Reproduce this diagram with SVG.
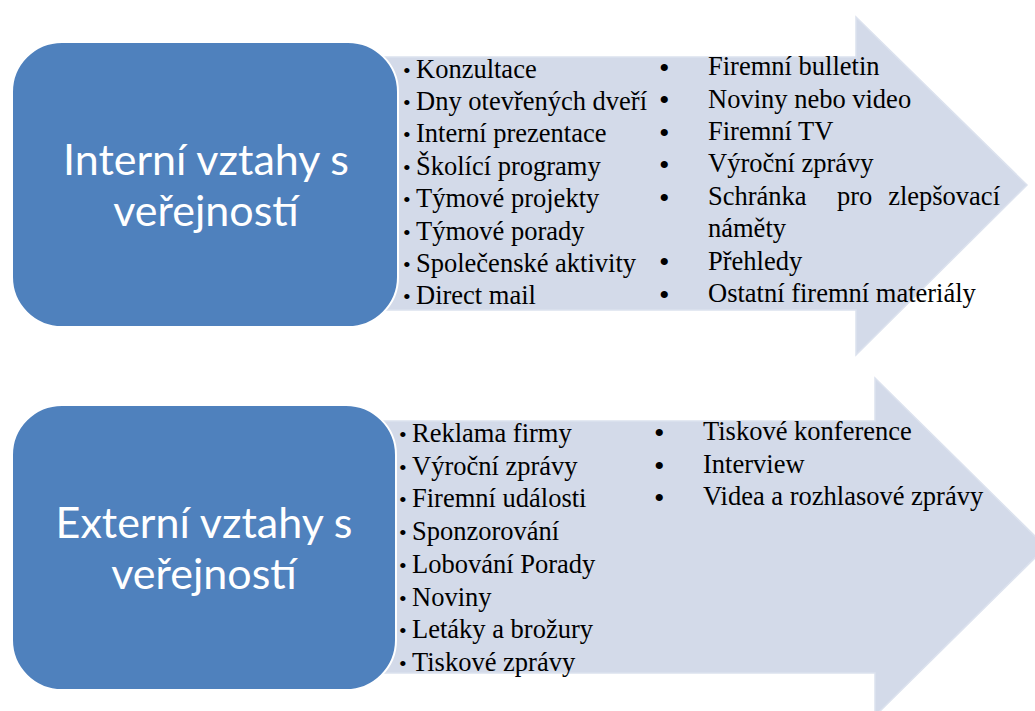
<svg xmlns="http://www.w3.org/2000/svg" width="1035" height="711" viewBox="0 0 1035 711">
<style>
.arrow{fill:#D3DAE9;stroke:#DCE2EE;stroke-width:1.5}
.box{fill:#4F81BD;stroke:#FFFFFF;stroke-width:2}
.title{font-family:Lato,"Noto Sans",sans-serif;font-size:43px;fill:#FFFFFF;text-anchor:middle}
.item{font-family:"Liberation Serif","Times New Roman",serif;font-size:26.5px;fill:#000000}
.sb{font-family:"Liberation Serif","Times New Roman",serif;font-size:22px;fill:#000000}
.bb{font-family:"Liberation Serif","Times New Roman",serif;font-size:30px;fill:#000000}
</style>
<rect width="1035" height="711" fill="#FFFFFF"/>
<g id="connectors"></g>
<g id="internal-list">
<path class="arrow" d="M380,57 H856 V17 L1027,185 L856,355 V310 H380 Z"/>
<text class="sb" x="403" y="77.5">•</text><text class="item" x="416" y="77.5">Konzultace</text>
<text class="sb" x="403" y="110">•</text><text class="item" x="416" y="110">Dny otevřených dveří</text>
<text class="sb" x="403" y="142">•</text><text class="item" x="416" y="142">Interní prezentace</text>
<text class="sb" x="403" y="175">•</text><text class="item" x="416" y="175">Školící programy</text>
<text class="sb" x="403" y="207">•</text><text class="item" x="416" y="207">Týmové projekty</text>
<text class="sb" x="403" y="239.5">•</text><text class="item" x="416" y="239.5">Týmové porady</text>
<text class="sb" x="403" y="272">•</text><text class="item" x="416" y="272">Společenské aktivity</text>
<text class="sb" x="403" y="304">•</text><text class="item" x="416" y="304">Direct mail</text>
<text class="bb" x="659" y="78">•</text><text class="item" x="708" y="75">Firemní bulletin</text>
<text class="bb" x="659" y="110">•</text><text class="item" x="708" y="107.5">Noviny nebo video</text>
<text class="bb" x="659" y="142.5">•</text><text class="item" x="708" y="140">Firemní TV</text>
<text class="bb" x="659" y="175">•</text><text class="item" x="708" y="172">Výroční zprávy</text>
<text class="bb" x="659" y="207.5">•</text><text class="item" x="708" y="204.5">Schránka</text><text class="item" x="837" y="204.5">pro</text><text class="item" x="1000" y="204.5" text-anchor="end">zlepšovací</text>
<text class="item" x="708" y="237">náměty</text>
<text class="bb" x="659" y="272">•</text><text class="item" x="708" y="269.5">Přehledy</text>
<text class="bb" x="659" y="304.5">•</text><text class="item" x="708" y="302">Ostatní firemní materiály</text>
</g>
<g id="internal-title">
<rect class="box" x="12" y="42" width="386" height="285" rx="50" ry="50"/>
<text class="title" x="206" y="175">Interní vztahy s</text>
<text class="title" x="206" y="226">veřejností</text>
</g>
<g id="external-list">
<path class="arrow" d="M380,421 H875 V378 L1046,547 L875,716 V673 H380 Z"/>
<text class="sb" x="399" y="442">•</text><text class="item" x="412" y="442">Reklama firmy</text>
<text class="sb" x="399" y="474.7">•</text><text class="item" x="412" y="474.7">Výroční zprávy</text>
<text class="sb" x="399" y="507.4">•</text><text class="item" x="412" y="507.4">Firemní události</text>
<text class="sb" x="399" y="540">•</text><text class="item" x="412" y="540">Sponzorování</text>
<text class="sb" x="399" y="572.8">•</text><text class="item" x="412" y="572.8">Lobování Porady</text>
<text class="sb" x="399" y="605.5">•</text><text class="item" x="412" y="605.5">Noviny</text>
<text class="sb" x="399" y="638">•</text><text class="item" x="412" y="638">Letáky a brožury</text>
<text class="sb" x="399" y="671">•</text><text class="item" x="412" y="671">Tiskové zprávy</text>
<text class="bb" x="654" y="443">•</text><text class="item" x="703" y="440">Tiskové konference</text>
<text class="bb" x="654" y="475.5">•</text><text class="item" x="703" y="472.5">Interview</text>
<text class="bb" x="654" y="508">•</text><text class="item" x="703" y="505">Videa a rozhlasové zprávy</text>
</g>
<g id="external-title">
<rect class="box" x="12" y="405" width="384" height="285" rx="50" ry="50"/>
<text class="title" x="204" y="538">Externí vztahy s</text>
<text class="title" x="204" y="589">veřejností</text>
</g>
</svg>
